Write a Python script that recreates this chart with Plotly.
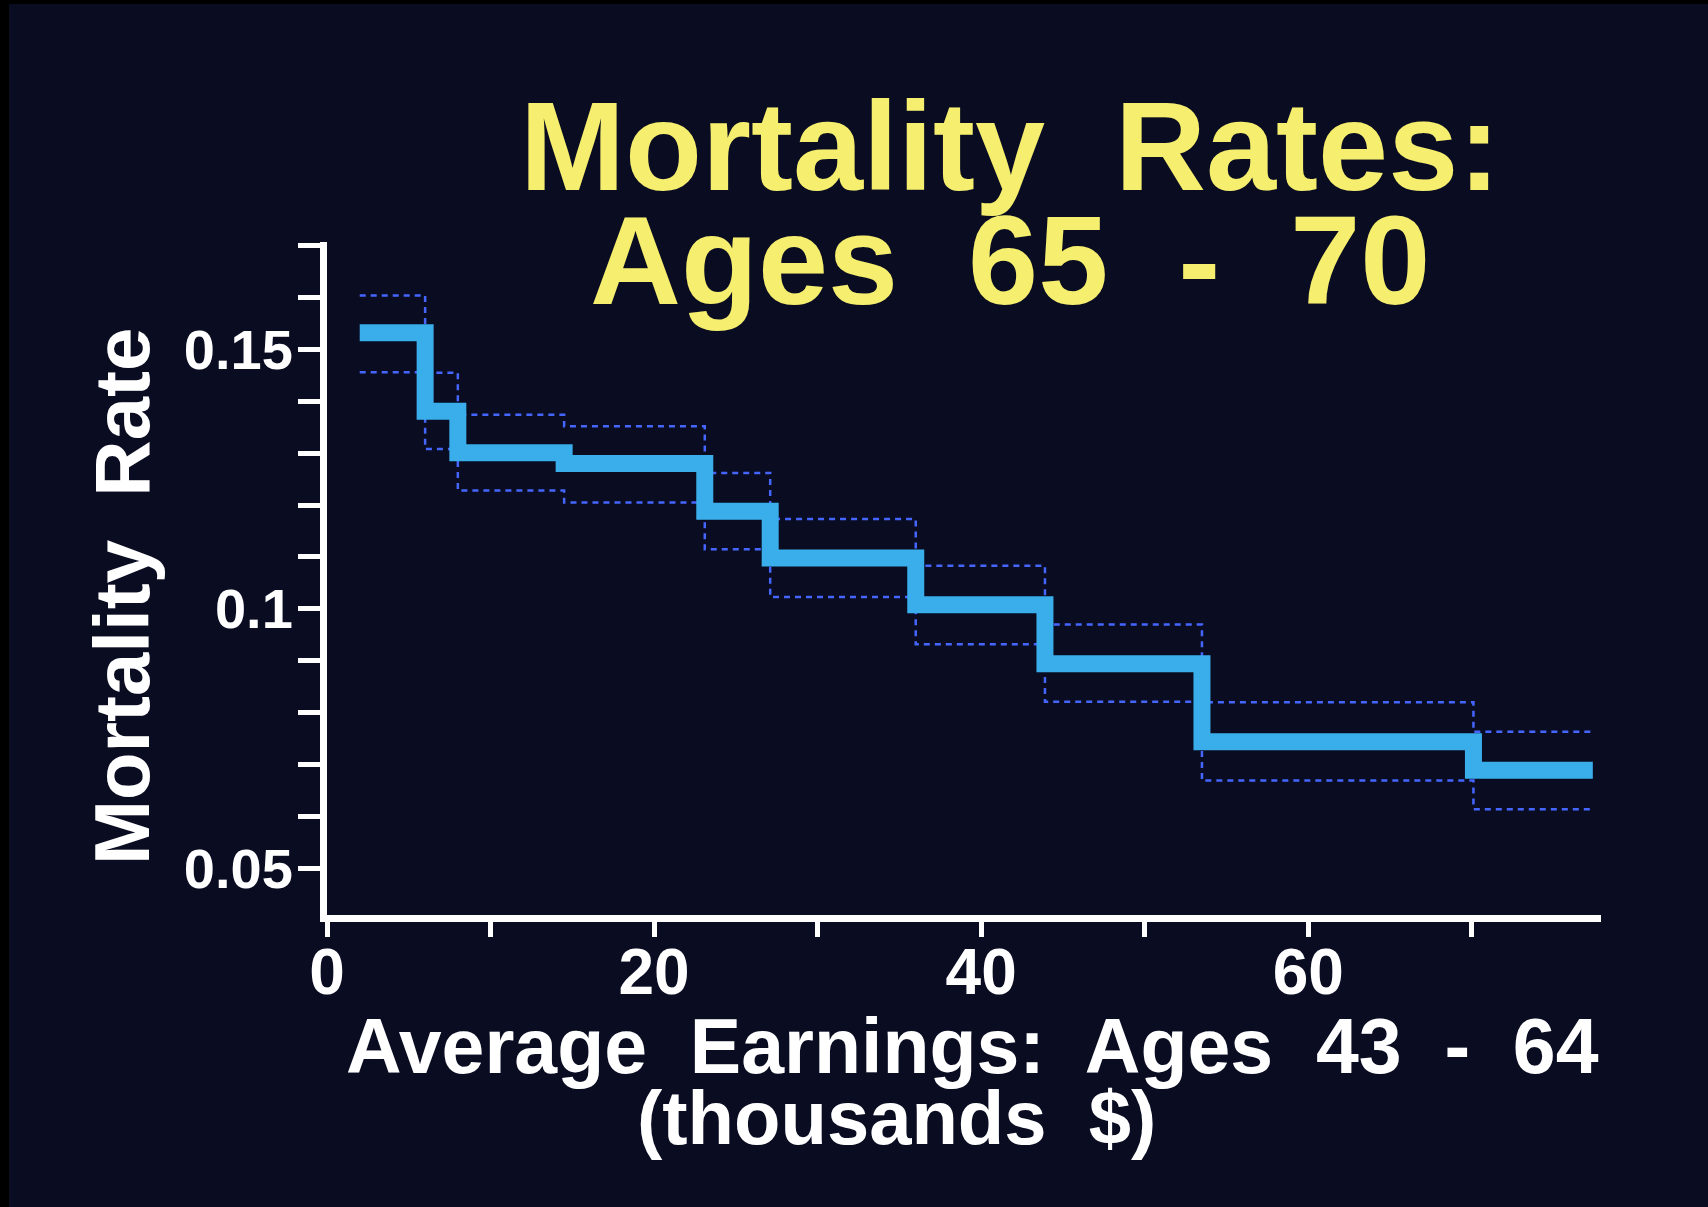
import plotly.graph_objects as go

# Earnings bands (thousands $): left edges of each step plus the final right edge
earnings_edges = [2.0, 6.0, 8.0, 14.5, 23.1, 27.1, 36.0, 43.9, 53.5, 70.1, 77.4]
# Mortality rate within each earnings band
mortality_rate = [0.1532, 0.1381, 0.1301, 0.1280, 0.1188, 0.1098, 0.1008, 0.0894, 0.0744, 0.0689]
# Confidence limits for each band
upper_limit = [0.1604, 0.1455, 0.1374, 0.1352, 0.1262, 0.1173, 0.1083, 0.0970, 0.0820, 0.0763]
lower_limit = [0.1456, 0.1308, 0.1228, 0.1205, 0.1115, 0.1023, 0.0932, 0.0821, 0.0669, 0.0614]

title_lines = ["Mortality  Rates:", "Ages  65  -  70"]
x_title_lines = ["Average  Earnings:  Ages  43  -  64", "(thousands  $)"]
y_title = "Mortality  Rate"

W, H = 1708, 1207
L, R, T, B = 327, 107, 242, 292
PW, PH = W - L - R, H - T - B

BG = "#0a0c22"
YELLOW = "#f5ee6e"
WHITE = "#ffffff"
FONT = "Liberation Sans, Arial, Helvetica, sans-serif"


def px_x(x):
    return (x - L) / PW


def px_y(y):
    return (H - B - y) / PH


def step_y(values):
    # repeat the last value so the final band gets its horizontal run
    return list(values) + [values[-1]]


fig = go.Figure()

for band in (upper_limit, lower_limit):
    fig.add_trace(go.Scatter(
        x=earnings_edges, y=step_y(band), mode="lines", line_shape="hv",
        line=dict(color="#4466ff", width=2.5, dash="6px,5px"),
        hoverinfo="skip", showlegend=False,
    ))

fig.add_trace(go.Scatter(
    x=earnings_edges, y=step_y(mortality_rate), mode="lines", line_shape="hv",
    line=dict(color="#3aaeea", width=17),
    showlegend=False,
))

annotations = []
for text, cx, base, size in [
    (title_lines[0], 1010, 191, 126),
    (title_lines[1], 1010, 305, 126),
]:
    annotations.append(dict(
        text=text, x=px_x(cx), y=px_y(base - 0.35 * size), xref="paper", yref="paper",
        xanchor="center", yanchor="middle", showarrow=False,
        font=dict(family=FONT, size=size, color=YELLOW, weight="bold"),
    ))

for text, cx, base, size in [
    (x_title_lines[0], 972, 1073, 77),
    (x_title_lines[1], 896, 1144, 76),
]:
    annotations.append(dict(
        text=text, x=px_x(cx), y=px_y(base - 0.35 * size), xref="paper", yref="paper",
        xanchor="center", yanchor="middle", showarrow=False,
        font=dict(family=FONT, size=size, color=WHITE, weight="bold"),
    ))

annotations.append(dict(
    text=y_title, x=px_x(122), y=px_y(597), xref="paper", yref="paper",
    xanchor="center", yanchor="middle", showarrow=False, textangle=-90,
    font=dict(family=FONT, size=78, color=WHITE, weight="bold"),
))

# dark film edge along the left and top borders
shapes = [
    dict(type="rect", xref="paper", yref="paper",
         x0=px_x(0), x1=px_x(9), y0=px_y(H), y1=px_y(0),
         fillcolor="#000000", line=dict(width=0), layer="below"),
    dict(type="rect", xref="paper", yref="paper",
         x0=px_x(0), x1=px_x(W), y0=px_y(4), y1=px_y(0),
         fillcolor="#000000", line=dict(width=0), layer="below"),
]

fig.update_layout(
    width=W, height=H,
    margin=dict(l=L, r=R, t=T, b=B, pad=0),
    paper_bgcolor=BG, plot_bgcolor=BG,
    annotations=annotations,
    shapes=shapes,
    xaxis=dict(
        range=[0, 77.9], showgrid=False, zeroline=False,
        showline=True, linecolor=WHITE, linewidth=7,
        tickmode="linear", tick0=0, dtick=20,
        ticks="outside", ticklen=15, tickwidth=5, tickcolor=WHITE,
        minor=dict(tick0=0, dtick=10, ticks="outside", ticklen=15, tickwidth=5, tickcolor=WHITE),
        tickfont=dict(family=FONT, size=64, color=WHITE, weight="bold"),
        ticklabelstandoff=-20,
    ),
    yaxis=dict(
        range=[0.041, 0.1707], showgrid=False, zeroline=False,
        showline=True, linecolor=WHITE, linewidth=7,
        tickmode="linear", tick0=0.05, dtick=0.05,
        ticks="outside", ticklen=22, tickwidth=5, tickcolor=WHITE,
        minor=dict(tick0=0.05, dtick=0.01, ticks="outside", ticklen=22, tickwidth=5, tickcolor=WHITE),
        tickfont=dict(family=FONT, size=56, color=WHITE, weight="bold"),
        ticklabelstandoff=-6,
    ),
)

fig.write_html("out.html")
